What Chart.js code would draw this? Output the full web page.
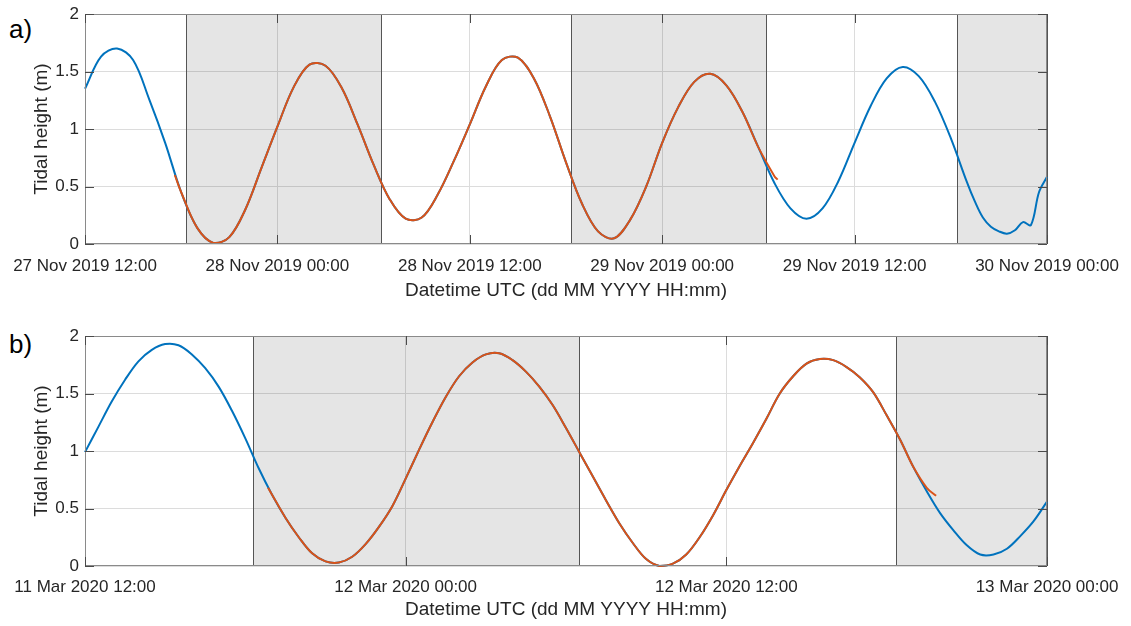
<!DOCTYPE html>
<html>
<head>
<meta charset="utf-8">
<script src="https://cdn.jsdelivr.net/npm/chart.js@4"></script>
<style>
  body { margin:0; background:#fff; width:1131px; height:626px; position:relative; overflow:hidden; font-family:"Liberation Sans", Arial, sans-serif; }
  canvas { position:absolute; left:0; }
  .tag { position:absolute; left:9px; font-size:26px; color:#000; }
</style>
</head>
<body>
<div class="tag" style="top:14px">a)</div>
<div class="tag" style="top:329px">b)</div>
<canvas id="ca" width="1131" height="310" style="top:0"></canvas>
<canvas id="cb" width="1131" height="304" style="top:322px"></canvas>
<script>
const range = (a,b,d)=> { const r=[]; for (let v=a; v<=b+1e-9; v+=d) r.push(+v.toFixed(2)); return r; };

// ---------- panel a: 27-30 Nov 2019, hours after 27 Nov 12:00 ----------
const ticksA  = ['27 Nov 2019 12:00','28 Nov 2019 00:00','28 Nov 2019 12:00','29 Nov 2019 00:00','29 Nov 2019 12:00','30 Nov 2019 00:00'];
const hoursA  = [...range(0,55,1), 55.5,56,56.5,57,57.5,58,58.5,59,59.5,60];
const tideA   = [1.35,1.63,1.70,1.60,1.26,0.88,0.45,0.14,0.01,0.06,
                 0.30,0.66,1.02,1.36,1.56,1.55,1.36,1.04,0.69,0.39,
                 0.22,0.23,0.43,0.72,1.04,1.37,1.60,1.62,1.44,1.11,
                 0.71,0.35,0.11,0.05,0.21,0.50,0.88,1.19,1.41,1.48,
                 1.38,1.15,0.84,0.53,0.31,0.22,0.31,0.55,0.88,1.20,
                 1.44,1.54,1.46,1.24,0.92,0.54,
                 0.37,0.23,0.15,0.11,0.09,0.12,0.19,0.165,0.45,0.585];
const modelHoursA = [5.6, ...range(6,43,1), 43.2];
const modelA  = [0.60,0.45,0.14,0.01,0.06,0.30,0.66,1.02,1.36,1.56,1.55,1.36,1.04,0.69,0.39,
                 0.22,0.23,0.43,0.72,1.04,1.37,1.60,1.62,1.44,1.11,0.71,0.35,0.11,0.05,0.21,
                 0.50,0.88,1.19,1.41,1.48,1.38,1.15,0.84,0.59,0.56];
const nightA  = [[6.3,18.47],[30.3,42.48],[54.4,60]];

// ---------- panel b: 11-13 Mar 2020, hours after 11 Mar 12:00 ----------
const ticksB  = ['11 Mar 2020 12:00','12 Mar 2020 00:00','12 Mar 2020 12:00','13 Mar 2020 00:00'];
const hoursB  = range(0,36,0.5);
const tideB   = [0.99,1.21,1.43,1.62,1.78,1.88,1.93,1.92,1.84,1.72,
                 1.56,1.35,1.11,0.85,0.62,0.42,0.25,0.11,0.04,0.03,
                 0.08,0.19,0.34,0.52,0.76,1.01,1.25,1.47,1.65,1.77,
                 1.84,1.85,1.79,1.69,1.56,1.40,1.20,0.99,0.78,0.57,
                 0.37,0.20,0.06,0.00,0.02,0.10,0.25,0.44,0.66,0.87,
                 1.07,1.28,1.50,1.65,1.76,1.80,1.79,1.73,1.64,1.51,
                 1.31,1.10,0.86,0.65,0.46,0.31,0.18,0.10,0.10,0.15,
                 0.26,0.39,0.56];
const modelHoursB = [6.85, ...range(7,31,0.5), 31.5, 31.85];
const modelB  = [0.68,
                 0.62,0.42,0.25,0.11,0.04,0.03,0.08,0.19,0.34,0.52,
                 0.76,1.01,1.25,1.47,1.65,1.77,1.84,1.85,1.79,1.69,
                 1.56,1.40,1.20,0.99,0.78,0.57,0.37,0.20,0.06,0.00,
                 0.02,0.10,0.25,0.44,0.66,0.87,1.07,1.28,1.50,1.65,
                 1.76,1.80,1.79,1.73,1.64,1.51,1.31,1.10,0.86,
                 0.68,0.61];
const nightB  = [[6.3,18.49],[30.35,36]];

const yTicks = [0,0.5,1,1.5,2];

// ---------- helpers ----------
const zip = (xs,ys)=> xs.map((x,i)=>({x, y:ys[i]}));
const TXT = '#262626';
const FONT = '"Liberation Sans", Arial';

// night shading under the lines, axes box + inward tick marks on top
const frame = {
  id:'frame',
  beforeDatasetsDraw(chart, args, o) {
    const {ctx, chartArea:a, scales:{x}} = chart;
    ctx.save();
    o.nights.forEach(([s,e])=>{
      const l = Math.round(x.getPixelForValue(s))+.5, r = Math.round(x.getPixelForValue(e))+.5;
      ctx.fillStyle = 'rgba(0,0,0,0.10)';
      ctx.fillRect(l, a.top, r-l, a.bottom-a.top);
      ctx.strokeStyle = '#555'; ctx.lineWidth = 1;
      ctx.strokeRect(l, a.top+.5, r-l, a.bottom-a.top-1);
    });
    ctx.restore();
  },
  afterDraw(chart) {
    const {ctx, chartArea:a, scales:{x,y}} = chart;
    ctx.save();
    ctx.strokeStyle = '#8a8a8a'; ctx.lineWidth = 1;
    ctx.strokeRect(a.left+.5, a.top+.5, a.right-a.left-1, a.bottom-a.top-1);
    ctx.strokeStyle = '#4a4a4a';
    ctx.beginPath();
    x.ticks.forEach(t=>{
      const px = Math.round(x.getPixelForValue(t.value))+.5;
      ctx.moveTo(px, a.bottom); ctx.lineTo(px, a.bottom-9);
      ctx.moveTo(px, a.top);    ctx.lineTo(px, a.top+9);
    });
    y.ticks.forEach(t=>{
      const py = Math.round(y.getPixelForValue(t.value))+.5;
      ctx.moveTo(a.left, py);  ctx.lineTo(a.left+9, py);
      ctx.moveTo(a.right, py); ctx.lineTo(a.right-9, py);
    });
    ctx.stroke();
    ctx.restore();
  }
};

function panel(id, p) {
  const canvas = document.getElementById(id);
  const line = {borderWidth:2, pointRadius:0, tension:0.35};
  return new Chart(canvas, {
    type:'line',
    data:{ datasets:[
      {label:'model', data:zip(p.mHours,p.model), borderColor:'#D95319', ...line},
      {label:'observed', data:zip(p.hours,p.tide), borderColor:'#0072BD', ...line}
    ]},
    options:{
      responsive:false, animation:false, clip:false,
      layout:{ padding:{left:0, right:84, top:14, bottom:0} },
      plugins:{ legend:{display:false}, tooltip:{enabled:false}, frame:{nights:p.nights} },
      scales:{
        x:{
          type:'linear', min:0, max:p.max,
          afterBuildTicks: s=> { s.ticks = p.ticks.map((_,i)=>({value:i*12})); },
          afterFit: s=> { s.height = p.xh; s.paddingLeft = 0; s.paddingRight = 0; },
          ticks:{ callback:(v)=> p.ticks[Math.round(v/12)], color:TXT, padding:p.tp, maxRotation:0, autoSkip:false,
                  font:{family:FONT, size:17} },
          grid:{ color:'#dcdcdc', drawTicks:false },
          border:{ display:false },
          title:{ display:true, text:'Datetime UTC (dd MM YYYY HH:mm)', color:TXT,
                  font:{family:FONT, size:19}, padding:{top:0, bottom:p.titlePad} }
        },
        y:{
          min:0, max:2,
          afterBuildTicks: s=> { s.ticks = yTicks.map(v=>({value:v})); },
          afterFit: s=> { s.width = 85; s.paddingTop = 0; s.paddingBottom = 0; },
          ticks:{ callback:(v)=> String(v), color:TXT, padding:6, font:{family:FONT, size:17} },
          grid:{ color:'#dcdcdc', drawTicks:false },
          border:{ display:false },
          title:{ display:true, text:'Tidal height (m)', color:TXT,
                  font:{family:FONT, size:19}, padding:{top:30, bottom:0} }
        }
      }
    },
    plugins:[frame]
  });
}

panel('ca', {hours:hoursA, tide:tideA, mHours:modelHoursA, model:modelA, nights:nightA, ticks:ticksA, max:60, xh:66, tp:12, titlePad:8});
panel('cb', {hours:hoursB, tide:tideB, mHours:modelHoursB, model:modelB, nights:nightB, ticks:ticksB, max:36, xh:60, tp:11, titlePad:5});
</script>
</body>
</html>
